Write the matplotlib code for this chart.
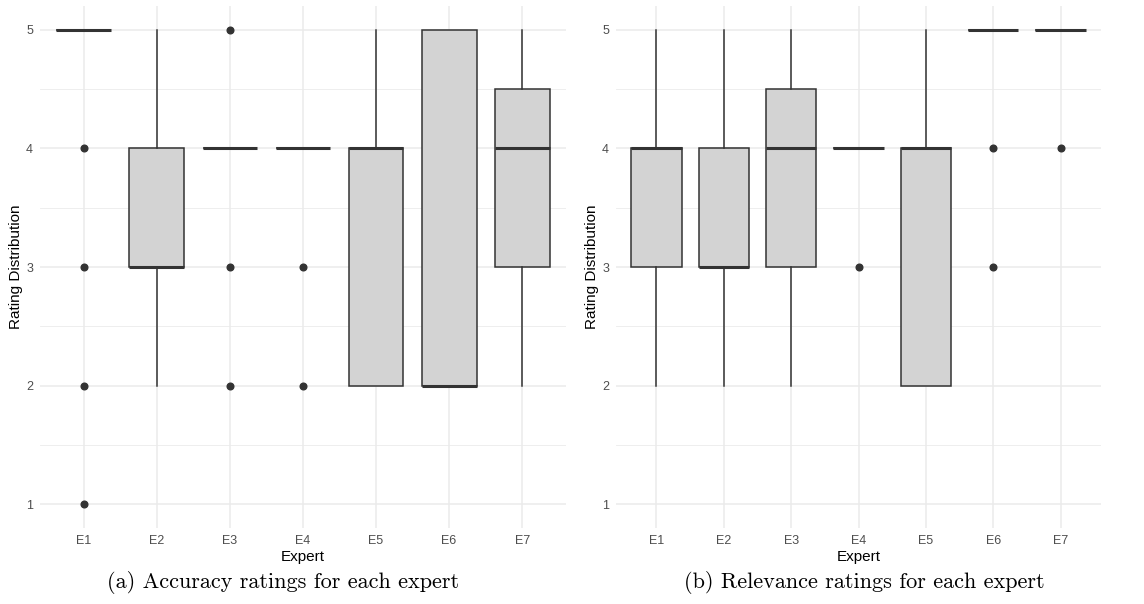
import matplotlib
matplotlib.use("Agg")
import matplotlib.pyplot as plt

experts = ["E1", "E2", "E3", "E4", "E5", "E6", "E7"]

# accuracy: q1, median, q3, whisker low, whisker high, outliers
acc_q1 = [5, 3, 4, 4, 2, 2, 3]
acc_med = [5, 3, 4, 4, 4, 2, 4]
acc_q3 = [5, 4, 4, 4, 4, 5, 4.5]
acc_lo = [5, 2, 4, 4, 2, 2, 2]
acc_hi = [5, 5, 4, 4, 5, 5, 5]
acc_out = [[4, 3, 2, 1], [], [5, 3, 2], [3, 2], [], [], []]

# relevance
rel_q1 = [3, 3, 3, 4, 2, 5, 5]
rel_med = [4, 3, 4, 4, 4, 5, 5]
rel_q3 = [4, 4, 4.5, 4, 4, 5, 5]
rel_lo = [2, 2, 2, 4, 2, 5, 5]
rel_hi = [5, 5, 5, 4, 5, 5, 5]
rel_out = [[], [], [], [3], [], [4, 3], [4]]

captions = ["(a) Accuracy ratings for each expert",
            "(b) Relevance ratings for each expert"]

SANS = "Liberation Sans"
DARK = "#333333"
FILL = "#D3D3D3"
GRID = "#EBEBEB"


def draw_panel(ax, q1, med, q3, lo, hi, out):
    stats = []
    for i, name in enumerate(experts):
        stats.append(dict(label=name, q1=q1[i], med=med[i], q3=q3[i],
                          whislo=lo[i], whishi=hi[i], fliers=out[i]))
    ax.bxp(stats, positions=range(1, len(experts) + 1), widths=0.75,
           patch_artist=True, showcaps=False,
           boxprops=dict(facecolor=FILL, edgecolor=DARK, linewidth=1.1),
           medianprops=dict(color=DARK, linewidth=2.2),
           whiskerprops=dict(color=DARK, linewidth=1.1),
           flierprops=dict(marker="o", markerfacecolor=DARK,
                           markeredgecolor=DARK, markersize=4.8))

    ax.set_xlim(0.4, len(experts) + 0.6)
    ax.set_ylim(0.8, 5.2)
    ax.set_yticks([1, 2, 3, 4, 5])
    ax.set_yticks([1.5, 2.5, 3.5, 4.5], minor=True)
    ax.set_xticks(range(1, len(experts) + 1))
    ax.set_xticklabels(experts)
    ax.grid(True, which="major", color=GRID, linewidth=1.1)
    ax.grid(True, which="minor", axis="y", color=GRID, linewidth=0.6)
    ax.set_axisbelow(True)
    for s in ax.spines.values():
        s.set_visible(False)
    ax.tick_params(which="both", length=0, pad=5, labelsize=9,
                   labelcolor="#4D4D4D")
    for lab in ax.get_xticklabels() + ax.get_yticklabels():
        lab.set_fontfamily(SANS)
    ax.set_xlabel("Expert", fontsize=11, fontfamily=SANS, labelpad=2)
    ax.set_ylabel("Rating Distribution", fontsize=11, fontfamily=SANS,
                  labelpad=2)


fig = plt.figure(figsize=(11.44, 6.04), dpi=100)
ax1 = fig.add_axes([40 / 1144, 76 / 604, 526 / 1144, 522 / 604])
ax2 = fig.add_axes([616 / 1144, 76 / 604, 485 / 1144, 522 / 604])

draw_panel(ax1, acc_q1, acc_med, acc_q3, acc_lo, acc_hi, acc_out)
draw_panel(ax2, rel_q1, rel_med, rel_q3, rel_lo, rel_hi, rel_out)

fig.text(283 / 1144, 1 - 582 / 604, captions[0], ha="center", va="center",
         fontsize=16, fontfamily="cmr10")
fig.text(864 / 1144, 1 - 582 / 604, captions[1], ha="center", va="center",
         fontsize=16, fontfamily="cmr10")

fig.savefig("out.png", dpi=100)
